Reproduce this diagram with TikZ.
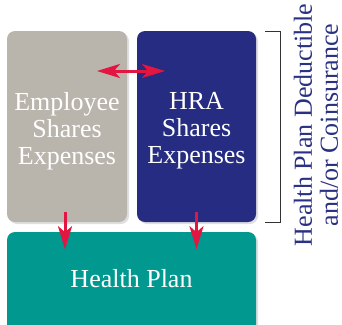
\documentclass[tikz,border=0pt]{standalone}
\usepackage{fontspec}
\setmainfont{Liberation Serif}
\usetikzlibrary{arrows.meta,shadows}

\definecolor{empgray}{RGB}{185,180,172}
\definecolor{hranavy}{RGB}{37,44,130}
\definecolor{planteal}{RGB}{0,152,143}
\definecolor{arrowred}{RGB}{226,22,64}
\definecolor{sidenavy}{RGB}{42,48,130}

\tikzset{
  share/.style={rounded corners=8pt, inner sep=0pt,
    drop shadow={shadow xshift=2pt, shadow yshift=-2pt, opacity=0.25}},
  sharetext/.style={text=white, align=center, font=\fontsize{26}{27}\selectfont},
  redtip/.tip={Stealth[length=23pt,width=14pt,inset=6pt]},
  flow/.style={arrowred, line width=3pt, -redtip},
}

\begin{document}
\begin{tikzpicture}[x=1pt,y=-1pt]
  \useasboundingbox (0,0) rectangle (342,324);
  \clip (0,0) rectangle (342,324);

  \node[share, fill=empgray, minimum width=120pt, minimum height=191pt] (emp) at (67,126.5) {};
  \node[share, fill=hranavy, minimum width=119pt, minimum height=191pt] (hra) at (196.5,126.5) {};
  \node[share, fill=planteal, minimum width=249pt, minimum height=110pt] (plan) at (131.5,287) {};
  \node[sharetext] (emptext) at (67,131) {Employee\\Shares\\Expenses};
  \node[sharetext] (hratext) at (196.5,131) {HRA\\Shares\\Expenses};
  \node[sharetext] (plantext) at (131.5,279) {Health Plan};

  % bracket round the two boxes
  \draw[line width=0.8pt, black!80] (265,31) -- (280,31) -- (280,222) -- (265,222);
  \node[rotate=90, text=sidenavy, align=center, font=\fontsize{26}{26}\selectfont] (side) at (316,125)
    {Health Plan Deductible\\and/or Coinsurance};

  % arrows
  \coordinate (swapl) at (97,71);
  \coordinate (swapr) at (165,71);
  \draw[flow, redtip-redtip] (swapl) -- (swapr);
  \draw[flow] (emp.south) ++(-2,-10) coordinate (empout) -- ++(0,37) coordinate (empin);
  \draw[flow] (hra.south) ++(0,-10) coordinate (hraout) -- ++(0,37) coordinate (hrain);
\end{tikzpicture}
\end{document}
